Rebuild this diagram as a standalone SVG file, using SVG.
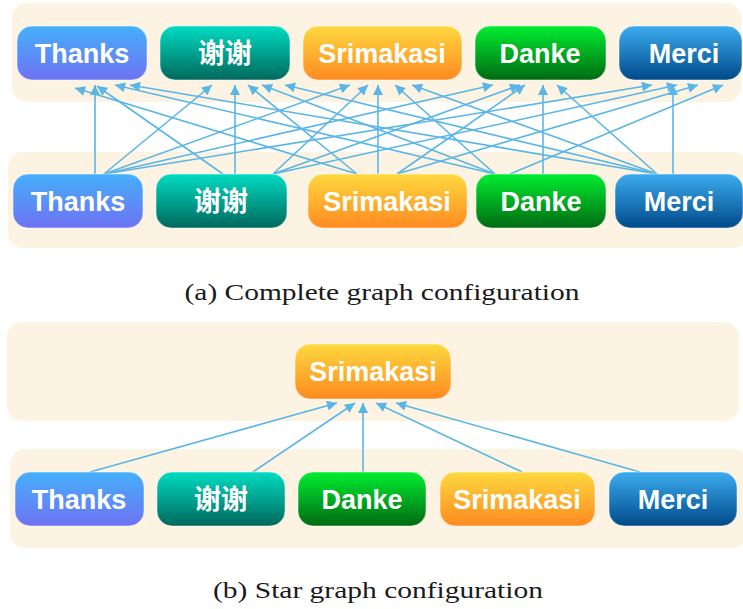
<svg xmlns="http://www.w3.org/2000/svg" width="743" height="609" viewBox="0 0 743 609">
<style>
.panel{fill:#fdf3e3}
.node{stroke:#ffffff;stroke-opacity:0.5;stroke-width:1}
.lbl{font-family:"Liberation Sans","Noto Sans CJK SC",sans-serif;font-weight:bold;font-size:27px;fill:#ffffff;text-anchor:middle}
.cjk{font-family:"Noto Sans CJK SC","Liberation Sans",sans-serif;font-weight:bold;font-size:27px;fill:#ffffff;text-anchor:middle}
.cap{font-family:"Liberation Serif","DejaVu Serif",serif;font-size:24px;fill:#1a1a1a;text-anchor:middle}
.edge{stroke:#5ab6e6;stroke-width:1.6;fill:none;marker-end:url(#ah)}
</style>
<defs>
<marker id="ah" viewBox="0 0 10 10" refX="10" refY="5" markerWidth="12" markerHeight="10" markerUnits="userSpaceOnUse" orient="auto"><path d="M0,0 L10,5 L0,10 z" fill="#5ab6e6"/></marker>
<linearGradient id="gT" x1="0" y1="0" x2="0" y2="1"><stop offset="0" stop-color="#45b0fb"/><stop offset="1" stop-color="#6e72f3"/></linearGradient>
<linearGradient id="gX" x1="0" y1="0" x2="0" y2="1"><stop offset="0" stop-color="#00dcc2"/><stop offset="1" stop-color="#00685c"/></linearGradient>
<linearGradient id="gS" x1="0" y1="0" x2="0" y2="1"><stop offset="0" stop-color="#fdd93e"/><stop offset="1" stop-color="#ff8a20"/></linearGradient>
<linearGradient id="gD" x1="0" y1="0" x2="0" y2="1"><stop offset="0" stop-color="#00ee30"/><stop offset="1" stop-color="#006a12"/></linearGradient>
<linearGradient id="gM" x1="0" y1="0" x2="0" y2="1"><stop offset="0" stop-color="#3cacef"/><stop offset="1" stop-color="#004a8a"/></linearGradient>
</defs>
<rect width="743" height="609" fill="#ffffff"/>

<!-- panels -->
<rect class="panel" x="12" y="3" width="729" height="99" rx="15"/>
<rect class="panel" x="8" y="152" width="740" height="96" rx="15"/>
<rect class="panel" x="7" y="322" width="732" height="99" rx="15"/>
<rect class="panel" x="10" y="449" width="738" height="99" rx="15"/>

<!-- connectors (a) -->
<g id="edges-a">
<line class="edge" x1="95" y1="174" x2="95" y2="85"/>
<line class="edge" x1="104" y1="174" x2="212" y2="85"/>
<line class="edge" x1="104" y1="174" x2="350" y2="85"/>
<line class="edge" x1="104" y1="174" x2="493" y2="85"/>
<line class="edge" x1="104" y1="174" x2="652" y2="85"/>
<line class="edge" x1="223" y1="174" x2="97" y2="86"/>
<line class="edge" x1="235" y1="174" x2="235" y2="85"/>
<line class="edge" x1="273" y1="174" x2="368" y2="85"/>
<line class="edge" x1="273" y1="174" x2="520" y2="85"/>
<line class="edge" x1="273" y1="174" x2="677" y2="85"/>
<line class="edge" x1="357" y1="174" x2="75" y2="88"/>
<line class="edge" x1="357" y1="174" x2="248" y2="85"/>
<line class="edge" x1="378" y1="174" x2="378" y2="85"/>
<line class="edge" x1="397" y1="174" x2="525" y2="85"/>
<line class="edge" x1="397" y1="174" x2="698" y2="85"/>
<line class="edge" x1="495" y1="174" x2="115" y2="85"/>
<line class="edge" x1="495" y1="174" x2="262" y2="85"/>
<line class="edge" x1="495" y1="174" x2="395" y2="85"/>
<line class="edge" x1="543" y1="174" x2="543" y2="85"/>
<line class="edge" x1="510" y1="174" x2="723" y2="85"/>
<line class="edge" x1="657" y1="174" x2="130" y2="85"/>
<line class="edge" x1="657" y1="174" x2="285" y2="85"/>
<line class="edge" x1="657" y1="174" x2="412" y2="85"/>
<line class="edge" x1="657" y1="174" x2="557" y2="85"/>
<line class="edge" x1="673" y1="174" x2="673" y2="85"/>
</g>

<!-- connectors (b) -->
<g id="edges-b">
<line class="edge" x1="90" y1="472" x2="337" y2="403"/>
<line class="edge" x1="253" y1="472" x2="355" y2="403"/>
<line class="edge" x1="363" y1="472" x2="363" y2="403"/>
<line class="edge" x1="522" y1="472" x2="376" y2="403"/>
<line class="edge" x1="640" y1="472" x2="396" y2="403"/>
</g>

<!-- (a) top row -->
<g id="a-top-thanks"><rect class="node" x="17" y="26" width="130" height="54" rx="15" fill="url(#gT)"/><text class="lbl" x="82" y="63">Thanks</text></g>
<g id="a-top-xiexie"><rect class="node" x="160" y="26" width="130" height="54" rx="15" fill="url(#gX)"/><text class="cjk" x="225" y="63">谢谢</text></g>
<g id="a-top-srimakasi"><rect class="node" x="303" y="26" width="159" height="54" rx="15" fill="url(#gS)"/><text class="lbl" x="382" y="63">Srimakasi</text></g>
<g id="a-top-danke"><rect class="node" x="475" y="26" width="131" height="54" rx="15" fill="url(#gD)"/><text class="lbl" x="540" y="63">Danke</text></g>
<g id="a-top-merci"><rect class="node" x="619" y="26" width="123" height="54" rx="15" fill="url(#gM)"/><text class="lbl" x="684" y="63">Merci</text></g>

<!-- (a) bottom row -->
<g id="a-bot-thanks"><rect class="node" x="13" y="174" width="130" height="54" rx="15" fill="url(#gT)"/><text class="lbl" x="78" y="211">Thanks</text></g>
<g id="a-bot-xiexie"><rect class="node" x="156" y="174" width="131" height="54" rx="15" fill="url(#gX)"/><text class="cjk" x="221" y="211">谢谢</text></g>
<g id="a-bot-srimakasi"><rect class="node" x="308" y="174" width="159" height="54" rx="15" fill="url(#gS)"/><text class="lbl" x="387" y="211">Srimakasi</text></g>
<g id="a-bot-danke"><rect class="node" x="476" y="174" width="130" height="54" rx="15" fill="url(#gD)"/><text class="lbl" x="541" y="211">Danke</text></g>
<g id="a-bot-merci"><rect class="node" x="615" y="174" width="128" height="54" rx="15" fill="url(#gM)"/><text class="lbl" x="679" y="211">Merci</text></g>

<text class="cap" x="382" y="300" textLength="395" lengthAdjust="spacingAndGlyphs">(a) Complete graph configuration</text>

<!-- (b) -->
<g id="b-top-srimakasi"><rect class="node" x="295" y="344" width="156" height="55" rx="15" fill="url(#gS)"/><text class="lbl" x="373" y="381">Srimakasi</text></g>
<g id="b-bot-thanks"><rect class="node" x="15" y="472" width="129" height="54" rx="15" fill="url(#gT)"/><text class="lbl" x="79" y="509">Thanks</text></g>
<g id="b-bot-xiexie"><rect class="node" x="157" y="472" width="128" height="54" rx="15" fill="url(#gX)"/><text class="cjk" x="221" y="509">谢谢</text></g>
<g id="b-bot-danke"><rect class="node" x="298" y="472" width="128" height="54" rx="15" fill="url(#gD)"/><text class="lbl" x="362" y="509">Danke</text></g>
<g id="b-bot-srimakasi"><rect class="node" x="440" y="472" width="155" height="54" rx="15" fill="url(#gS)"/><text class="lbl" x="517" y="509">Srimakasi</text></g>
<g id="b-bot-merci"><rect class="node" x="609" y="472" width="128" height="54" rx="15" fill="url(#gM)"/><text class="lbl" x="673" y="509">Merci</text></g>

<text class="cap" x="378" y="598" textLength="330" lengthAdjust="spacingAndGlyphs">(b) Star graph configuration</text>
</svg>
